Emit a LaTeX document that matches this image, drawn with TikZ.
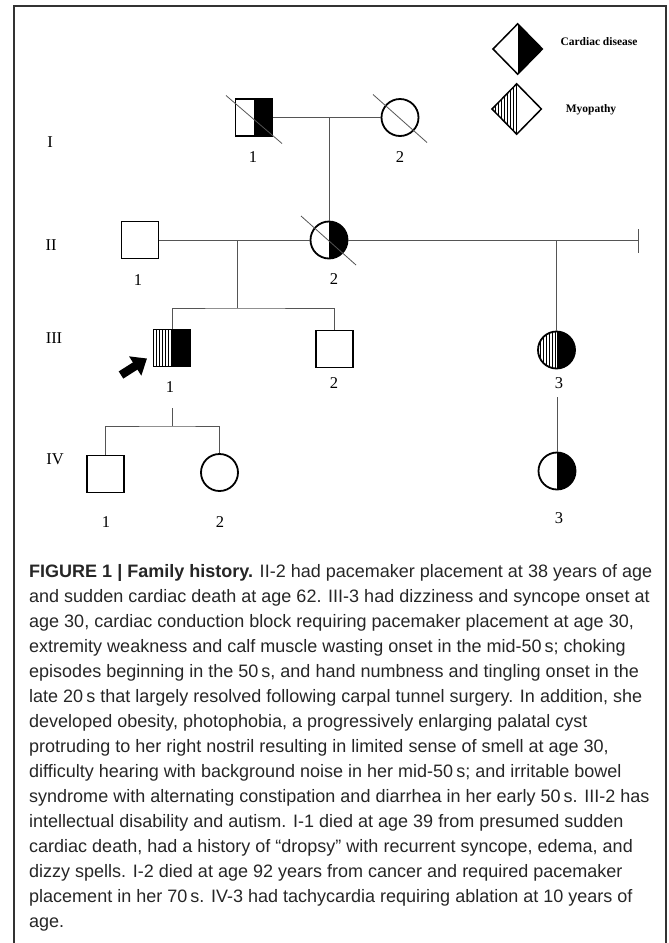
\documentclass[tikz,border=0pt]{standalone}
\usepackage{fontspec}
\setmainfont{Liberation Serif}
\newfontfamily\capfont{Liberation Sans}
\usetikzlibrary{shapes.geometric,arrows.meta}
\definecolor{framecol}{HTML}{333333}
\definecolor{linecol}{HTML}{555555}
\definecolor{textcol}{HTML}{262626}
\newlength\capw
\newcommand\capl[1]{\scalebox{\capsc}[1]{#1}}
\begin{document}
\settowidth\capw{\capfont\fontsize{18}{25}\selectfont{\bfseries FIGURE 1 | Family history.} II-2 had pacemaker placement at 38 years of age}%
\pgfmathsetmacro\capsc{623/\capw}%
\begin{tikzpicture}[x=1pt,y=-1pt,
  person/.style={draw=black,line width=1.8pt,inner sep=0pt,minimum size=37pt},
  male/.style={person,rectangle},
  female/.style={person,circle},
  halfblack/.style={path picture={\fill[black] (path picture bounding box.north) rectangle (path picture bounding box.south east);}},
  hatchblack/.style={path picture={\fill[black] (path picture bounding box.north) rectangle (path picture bounding box.south east);
      \foreach \hx in {2.5,5.5,...,17.5}{\draw[line width=0.6pt] ([xshift=\hx pt]path picture bounding box.south west) -- ([xshift=\hx pt]path picture bounding box.north west);}}},
  legdiamond/.style={draw=black,line width=1.5pt,shape=diamond,inner sep=0pt,minimum width=50pt,minimum height=51pt},
  conn/.style={draw=linecol,line width=1pt},
  dec/.style={draw=linecol,line width=0.8pt},
  gen/.style={font=\fontsize{16.5}{18}\selectfont},
  num/.style={font=\fontsize{16.5}{18}\selectfont},
  legtext/.style={font=\fontsize{11.5}{14}\selectfont\bfseries},
  capline/.style={anchor=base west,inner sep=0pt,text=textcol,font=\capfont\fontsize{18}{25}\selectfont}
]
\useasboundingbox (0,0) rectangle (669,943);

% frame
\draw[framecol,line width=1.3pt] (14,943) -- (14,6) -- (666,6) -- (666,943);

% legend
\node[legdiamond,halfblack] (legA) at (517.7,49) {};
\node[legdiamond,path picture={\foreach \hx in {3,6,...,24}{\draw[line width=0.6pt] ([xshift=\hx pt]path picture bounding box.south west) -- ([xshift=\hx pt]path picture bounding box.north west);}}] (legB) at (516.7,109) {};
\node[legtext] (legAt) at (599,42) {Cardiac disease};
\node[legtext] (legBt) at (591,110) {Myopathy};

% generation labels
\node[gen] (gI) at (50,142) {I};
\node[gen] (gII) at (51,245) {II};
\node[gen] (gIII) at (54,338) {III};
\node[gen] (gIV) at (55,459) {IV};

% individuals
\node[male,halfblack] (I1) at (254,117.5) {};
\node[female] (I2) at (400,117.5) {};
\node[male] (II1) at (140,240) {};
\node[female,halfblack] (II2) at (329,240) {};
\node[male,hatchblack] (III1) at (172,348) {};
\node[male] (III2) at (334.5,349) {};
\node[female,hatchblack] (III3) at (556.5,350) {};
\node[male] (IV1) at (105.6,474) {};
\node[female] (IV2) at (219.5,472.5) {};
\node[female,halfblack] (IV3) at (557,471) {};

% deceased
\draw[dec] ([shift={(-28,-22)}]I1.center) -- ([shift={(28,26)}]I1.center);
\draw[dec] ([shift={(-27,-23)}]I2.center) -- ([shift={(27,25)}]I2.center);
\draw[dec] ([shift={(-28,-24)}]II2.center) -- ([shift={(27,25)}]II2.center);

% individual numbers
\node[num] (nI1) at (253,157) {1};
\node[num] (nI2) at (400,157) {2};
\node[num] (nII1) at (138,280) {1};
\node[num] (nII2) at (334,279) {2};
\node[num] (nIII1) at (170,387) {1};
\node[num] (nIII2) at (334,383) {2};
\node[num] (nIII3) at (559,383) {3};
\node[num] (nIV1) at (106,522) {1};
\node[num] (nIV2) at (220,522) {2};
\node[num] (nIV3) at (559,518) {3};

% connectors
\coordinate (m1) at (329,117.5);
\draw[conn] (I1.east) -- (I2.west);
\draw[conn] (m1) -- (II2.north);
\draw[conn] (II1.east) -- (II2.west);
\coordinate (m2) at (237,240);
\coordinate (s2) at (237,308);
\draw[conn] (m2) -- (s2);
\draw[conn] (III1.north) |- (s2) -| (III2.north);
\coordinate (tick) at (638,240);
\coordinate (tickT) at (638,229);
\coordinate (tickB) at (638,253);
\draw[conn] (II2.east) -- (tick);
\draw[conn] (tickT) -- (tickB);
\coordinate (m3) at (556.5,240);
\draw[conn] (m3) -- (III3.north);
\coordinate (d3) at (557,397);
\draw[conn] (d3) -- (IV3.north);
\coordinate (d1) at (172,408);
\coordinate (s4) at (172,426);
\draw[conn] (d1) -- (s4);
\draw[conn] (IV1.north) |- (s4) -| (IV2.north);

% proband arrow
\coordinate (arT) at (121,375);
\coordinate (arH) at (147,358.5);
\draw[black,line width=8.5pt,-{Triangle[length=14pt,width=22pt]}] (arT) -- (arH);

% caption
\node[capline] (c1) at (29,577) {\capl{{\bfseries FIGURE 1 | Family history.} II-2 had pacemaker placement at 38 years of age}};
\node[capline] (c2) at (29,602) {\capl{and sudden cardiac death at age 62. III-3 had dizziness and syncope onset at}};
\node[capline] (c3) at (29,627) {\capl{age 30, cardiac conduction block requiring pacemaker placement at age 30,}};
\node[capline] (c4) at (29,652) {\capl{extremity weakness and calf muscle wasting onset in the mid-50\,s; choking}};
\node[capline] (c5) at (29,677) {\capl{episodes beginning in the 50\,s, and hand numbness and tingling onset in the}};
\node[capline] (c6) at (29,702) {\capl{late 20\,s that largely resolved following carpal tunnel surgery. In addition, she}};
\node[capline] (c7) at (29,727) {\capl{developed obesity, photophobia, a progressively enlarging palatal cyst}};
\node[capline] (c8) at (29,752) {\capl{protruding to her right nostril resulting in limited sense of smell at age 30,}};
\node[capline] (c9) at (29,777) {\capl{difficulty hearing with background noise in her mid-50\,s; and irritable bowel}};
\node[capline] (c10) at (29,802) {\capl{syndrome with alternating constipation and diarrhea in her early 50\,s. III-2 has}};
\node[capline] (c11) at (29,827) {\capl{intellectual disability and autism. I-1 died at age 39 from presumed sudden}};
\node[capline] (c12) at (29,852) {\capl{cardiac death, had a history of “dropsy” with recurrent syncope, edema, and}};
\node[capline] (c13) at (29,877) {\capl{dizzy spells. I-2 died at age 92 years from cancer and required pacemaker}};
\node[capline] (c14) at (29,902) {\capl{placement in her 70\,s. IV-3 had tachycardia requiring ablation at 10 years of}};
\node[capline] (c15) at (29,927) {\capl{age.}};
\end{tikzpicture}
\end{document}
